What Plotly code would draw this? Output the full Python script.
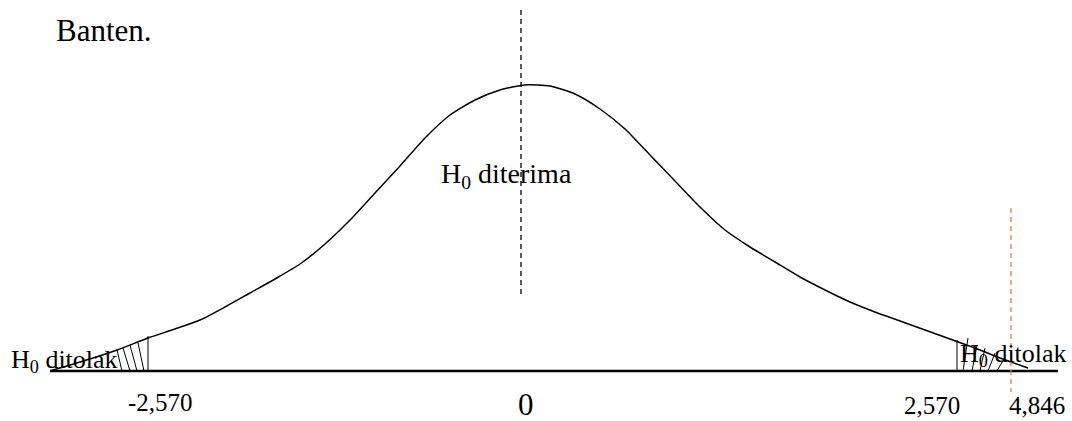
import plotly.graph_objects as go

# Diagram coordinates: x in drawing units across the page, y = height above the baseline
curve_x = [50, 80, 117, 148, 175, 200, 225, 250, 275, 300, 325, 350, 375, 400, 425,
           450, 475, 500, 525, 550, 575, 600, 625, 650, 675, 700, 725, 750, 775, 800,
           825, 850, 875, 900, 925, 950, 975, 1000, 1028]
curve_y = [0, 9, 21, 33, 42, 51, 64, 78, 92, 107, 127, 151, 178, 205, 233,
           256, 271, 281, 286, 285, 277, 262, 242, 216, 190, 164, 141, 124, 109, 94,
           81, 69, 59, 50, 41, 32, 23, 13, 3]

baseline_x = [50, 1058]
baseline_y = [0, 0]

# hatch segments (x0, y0, x1, y1)
hatch_left = [(148, 0, 148, 35), (117, 21, 122, 0), (123, 23, 130, 0),
              (130, 26, 137, 0), (138, 28, 144, 0)]
hatch_right = [(957, 0, 957, 31), (963, 0, 968, 33), (972, 0, 977, 26),
               (980, 0, 985, 23), (988, 0, 995, 18), (997, 0, 1005, 14)]

center_line_x = [521, 521]
center_line_y = [361, 76]
stat_line_x = [1011, 1011]
stat_line_y = [163, -21]

tick_labels = ["-2,570", "0", "2,570", "4,846"]
tick_label_x = [160.5, 526, 931.5, 1036.5]
tick_label_y = [-31, -33, -34, -34]
tick_label_size = [25, 31, 25, 25]

region_labels = ["Banten.", "H<sub>0</sub> diterima", "H<sub>0</sub> ditolak", "H<sub>0</sub> ditolak"]
region_label_x = [104, 506.5, 64.5, 1013.5]
region_label_y = [341, 195.5, 10, 16.5]
region_label_size = [31, 28, 26, 26]

FONT = "Liberation Serif, Times New Roman, serif"


def segs(seglist):
    xs, ys = [], []
    for x0, y0, x1, y1 in seglist:
        xs += [x0, x1, None]
        ys += [y0, y1, None]
    return xs, ys


fig = go.Figure()
fig.add_trace(go.Scatter(x=curve_x, y=curve_y, mode="lines",
                         line=dict(color="black", width=1.5, shape="spline", smoothing=0.6),
                         hoverinfo="skip"))
fig.add_trace(go.Scatter(x=baseline_x, y=baseline_y, mode="lines",
                         line=dict(color="black", width=2.6), hoverinfo="skip"))
for hs in (hatch_left, hatch_right):
    hx, hy = segs(hs)
    fig.add_trace(go.Scatter(x=hx, y=hy, mode="lines",
                             line=dict(color="black", width=1), hoverinfo="skip"))
fig.add_trace(go.Scatter(x=center_line_x, y=center_line_y, mode="lines",
                         line=dict(color="black", width=1.3, dash="5px,4px"), hoverinfo="skip"))
fig.add_trace(go.Scatter(x=stat_line_x, y=stat_line_y, mode="lines",
                         line=dict(color="#ED7D31", width=1.3, dash="5px,4px"), hoverinfo="skip"))

for t, x, y, s in zip(tick_labels, tick_label_x, tick_label_y, tick_label_size):
    fig.add_annotation(x=x, y=y, text=t, showarrow=False, xanchor="center", yanchor="middle",
                       font=dict(family=FONT, size=s, color="black"))
for t, x, y, s in zip(region_labels, region_label_x, region_label_y, region_label_size):
    fig.add_annotation(x=x, y=y, text=t, showarrow=False, xanchor="center", yanchor="middle",
                       font=dict(family=FONT, size=s, color="black"))

fig.update_layout(
    width=1072, height=421,
    margin=dict(l=0, r=0, t=0, b=0),
    paper_bgcolor="white", plot_bgcolor="white",
    showlegend=False,
    xaxis=dict(range=[0, 1072], visible=False, fixedrange=True),
    yaxis=dict(range=[-50, 371], visible=False, fixedrange=True),
)
fig.write_html("out.html", config={"displayModeBar": False},
               post_script="document.body.style.margin='0';document.body.style.overflow='hidden';")
